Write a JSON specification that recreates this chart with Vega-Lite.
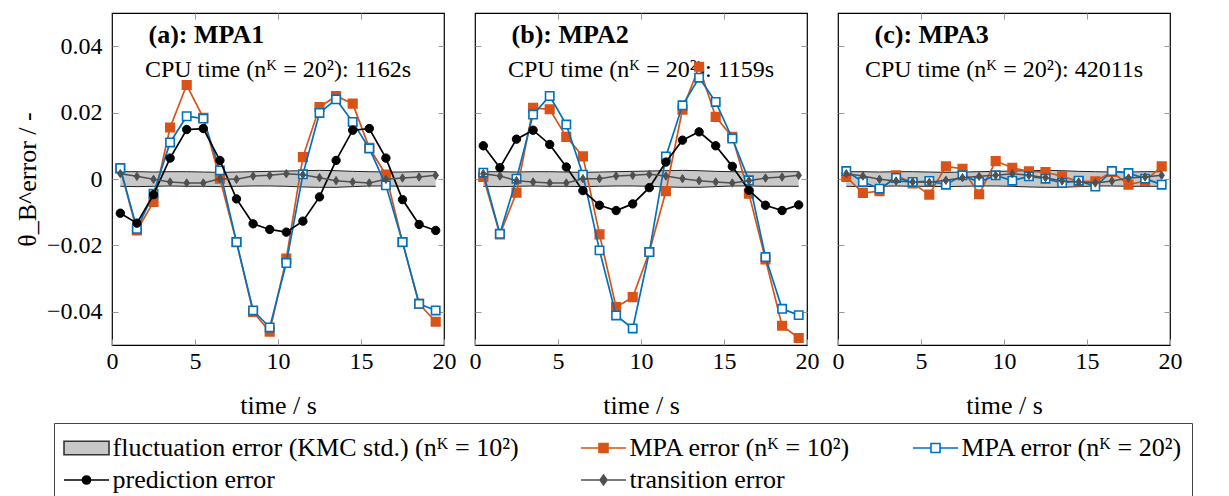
{
  "$schema": "https://vega.github.io/schema/vega-lite/v6.json",
  "padding": {"left": 13, "top": 11, "right": 5, "bottom": 5},
  "bounds": "flush",
  "spacing": 31,
  "config": {
    "view": {"stroke": "black", "strokeWidth": 1.2},
    "axis": {"labelFont": "Liberation Serif", "titleFont": "Liberation Serif", "labelFontSize": 24, "titleFontSize": 26, "titleFontWeight": "normal", "labelColor": "black", "titleColor": "black", "tickColor": "#999999", "tickSize": -6, "tickWidth": 1, "domain": false, "grid": false, "labelFlush": false}
  },
  "datasets": {
    "band": [
      {"t": 0.5, "lo": -0.0022, "hi": 0.0022}, {"t": 1.5, "lo": -0.0023, "hi": 0.0022}, {"t": 2.5, "lo": -0.0022, "hi": 0.0021}, {"t": 3.5, "lo": -0.0021, "hi": 0.0022}, {"t": 4.5, "lo": -0.0022, "hi": 0.0022},
      {"t": 5.5, "lo": -0.0022, "hi": 0.0021}, {"t": 6.5, "lo": -0.0023, "hi": 0.002}, {"t": 7.5, "lo": -0.0022, "hi": 0.0021}, {"t": 8.5, "lo": -0.0021, "hi": 0.0022}, {"t": 9.5, "lo": -0.0021, "hi": 0.0023},
      {"t": 10.5, "lo": -0.0022, "hi": 0.0024}, {"t": 11.5, "lo": -0.0024, "hi": 0.0025}, {"t": 12.5, "lo": -0.0025, "hi": 0.0026}, {"t": 13.5, "lo": -0.0025, "hi": 0.0025}, {"t": 14.5, "lo": -0.0023, "hi": 0.0023},
      {"t": 15.5, "lo": -0.0021, "hi": 0.0022}, {"t": 16.5, "lo": -0.0021, "hi": 0.0021}, {"t": 17.5, "lo": -0.0022, "hi": 0.0021}, {"t": 18.5, "lo": -0.0022, "hi": 0.0022}, {"t": 19.5, "lo": -0.0022, "hi": 0.0022}
    ],
    "labels": [
      {"p": "a", "title": "(a): MPA1", "cpu": "CPU time (nᴷ = 20²): 1162s"},
      {"p": "b", "title": "(b): MPA2", "cpu": "CPU time (nᴷ = 20²): 1159s"},
      {"p": "c", "title": "(c): MPA3", "cpu": "CPU time (nᴷ = 20²): 42011s"}
    ],
    "legend": [{"key": "fl"}, {"key": "m10"}, {"key": "m20"}, {"key": "pred"}, {"key": "trans"}],
    "wide": [
      {"p": "a", "t": 0.5, "m10": 0.0031, "m20": 0.0033, "pred": -0.0103, "trans": 0.0016},
      {"p": "a", "t": 1.5, "m10": -0.0155, "m20": -0.015, "pred": -0.0133, "trans": 0.0008},
      {"p": "a", "t": 2.5, "m10": -0.0069, "m20": -0.0044, "pred": -0.0047, "trans": -0.0001},
      {"p": "a", "t": 3.5, "m10": 0.0155, "m20": 0.011, "pred": 0.0063, "trans": -0.0009},
      {"p": "a", "t": 4.5, "m10": 0.0283, "m20": 0.0189, "pred": 0.0149, "trans": -0.0012},
      {"p": "a", "t": 5.5, "m10": 0.0184, "m20": 0.0182, "pred": 0.0152, "trans": -0.0012},
      {"p": "a", "t": 6.5, "m10": 0.0001, "m20": 0.0026, "pred": 0.0056, "trans": 0.0001},
      {"p": "a", "t": 7.5, "m10": -0.019, "m20": -0.019, "pred": -0.006, "trans": -0.0001},
      {"p": "a", "t": 8.5, "m10": -0.04, "m20": -0.0396, "pred": -0.0135, "trans": 0.0009},
      {"p": "a", "t": 9.5, "m10": -0.046, "m20": -0.0447, "pred": -0.0152, "trans": 0.0011},
      {"p": "a", "t": 10.5, "m10": -0.024, "m20": -0.0253, "pred": -0.016, "trans": 0.0016},
      {"p": "a", "t": 11.5, "m10": 0.0066, "m20": 0.0014, "pred": -0.0127, "trans": 0.0013},
      {"p": "a", "t": 12.5, "m10": 0.0217, "m20": 0.0199, "pred": -0.0054, "trans": 0.0004},
      {"p": "a", "t": 13.5, "m10": 0.025, "m20": 0.024, "pred": 0.0056, "trans": -0.0005},
      {"p": "a", "t": 14.5, "m10": 0.0227, "m20": 0.0172, "pred": 0.0147, "trans": -0.0009},
      {"p": "a", "t": 15.5, "m10": 0.0094, "m20": 0.0092, "pred": 0.0152, "trans": -0.0012},
      {"p": "a", "t": 16.5, "m10": 0.0013, "m20": -0.0019, "pred": 0.0063, "trans": -0.0001},
      {"p": "a", "t": 17.5, "m10": -0.019, "m20": -0.019, "pred": -0.0062, "trans": 0.0003},
      {"p": "a", "t": 18.5, "m10": -0.0376, "m20": -0.0376, "pred": -0.0137, "trans": 0.0006},
      {"p": "a", "t": 19.5, "m10": -0.043, "m20": -0.0396, "pred": -0.0155, "trans": 0.0011},
      {"p": "b", "t": 0.5, "m10": 0.0006, "m20": 0.0019, "pred": 0.01, "trans": 0.0016},
      {"p": "b", "t": 1.5, "m10": -0.0167, "m20": -0.0165, "pred": 0.0034, "trans": 0.0009},
      {"p": "b", "t": 2.5, "m10": -0.0041, "m20": 0.0001, "pred": 0.012, "trans": -0.0005},
      {"p": "b", "t": 3.5, "m10": 0.0214, "m20": 0.0194, "pred": 0.0147, "trans": -0.0009},
      {"p": "b", "t": 4.5, "m10": 0.021, "m20": 0.025, "pred": 0.0104, "trans": -0.0012},
      {"p": "b", "t": 5.5, "m10": 0.0127, "m20": 0.0164, "pred": 0.0036, "trans": -0.0012},
      {"p": "b", "t": 6.5, "m10": 0.0068, "m20": 0.0013, "pred": -0.0035, "trans": 0.0001},
      {"p": "b", "t": 7.5, "m10": -0.0167, "m20": -0.0215, "pred": -0.0079, "trans": 0.0001},
      {"p": "b", "t": 8.5, "m10": -0.0386, "m20": -0.0411, "pred": -0.0095, "trans": 0.0009},
      {"p": "b", "t": 9.5, "m10": -0.0356, "m20": -0.045, "pred": -0.0075, "trans": 0.0011},
      {"p": "b", "t": 10.5, "m10": -0.022, "m20": -0.022, "pred": -0.0026, "trans": 0.0014},
      {"p": "b", "t": 11.5, "m10": -0.0037, "m20": 0.0068, "pred": 0.0051, "trans": 0.0009},
      {"p": "b", "t": 12.5, "m10": 0.0209, "m20": 0.0222, "pred": 0.0117, "trans": 0.0001},
      {"p": "b", "t": 13.5, "m10": 0.0338, "m20": 0.0305, "pred": 0.0142, "trans": -0.0005},
      {"p": "b", "t": 14.5, "m10": 0.0187, "m20": 0.0232, "pred": 0.01, "trans": -0.0009},
      {"p": "b", "t": 15.5, "m10": 0.0127, "m20": 0.0122, "pred": 0.0038, "trans": -0.0012},
      {"p": "b", "t": 16.5, "m10": -0.0044, "m20": -0.0004, "pred": -0.0034, "trans": -0.0005},
      {"p": "b", "t": 17.5, "m10": -0.0242, "m20": -0.0235, "pred": -0.0079, "trans": 0.0003},
      {"p": "b", "t": 18.5, "m10": -0.0442, "m20": -0.0391, "pred": -0.0095, "trans": 0.0006},
      {"p": "b", "t": 19.5, "m10": -0.0479, "m20": -0.041, "pred": -0.0078, "trans": 0.0011},
      {"p": "c", "t": 0.5, "m10": 0.0006, "m20": 0.0024, "trans": 0.0016},
      {"p": "c", "t": 1.5, "m10": -0.0042, "m20": -0.0009, "trans": 0.0009},
      {"p": "c", "t": 2.5, "m10": -0.0037, "m20": -0.0029, "trans": -0.0001},
      {"p": "c", "t": 3.5, "m10": 0.0011, "m20": 0.0003, "trans": -0.0006},
      {"p": "c", "t": 4.5, "m10": -0.0013, "m20": -0.0009, "trans": -0.0009},
      {"p": "c", "t": 5.5, "m10": -0.0047, "m20": -0.0006, "trans": -0.001},
      {"p": "c", "t": 6.5, "m10": 0.0038, "m20": -0.0017, "trans": -0.0004},
      {"p": "c", "t": 7.5, "m10": 0.0031, "m20": 0.0011, "trans": 0.0004},
      {"p": "c", "t": 8.5, "m10": -0.0046, "m20": -0.0009, "trans": 0.0008},
      {"p": "c", "t": 9.5, "m10": 0.0054, "m20": 0.0011, "trans": 0.0011},
      {"p": "c", "t": 10.5, "m10": 0.0034, "m20": -0.0005, "trans": 0.0016},
      {"p": "c", "t": 11.5, "m10": 0.0023, "m20": 0.0008, "trans": 0.0011},
      {"p": "c", "t": 12.5, "m10": 0.0021, "m20": 0.0001, "trans": 0.0004},
      {"p": "c", "t": 13.5, "m10": 0.0008, "m20": -0.0012, "trans": -0.0006},
      {"p": "c", "t": 14.5, "m10": -0.0007, "m20": -0.0005, "trans": -0.0009},
      {"p": "c", "t": 15.5, "m10": -0.0007, "m20": -0.0023, "trans": -0.0012},
      {"p": "c", "t": 16.5, "m10": 0.0021, "m20": 0.0024, "trans": -0.0006},
      {"p": "c", "t": 17.5, "m10": -0.0017, "m20": 0.0018, "trans": 0.0003},
      {"p": "c", "t": 18.5, "m10": -0.0006, "m20": 0.0001, "trans": 0.0006},
      {"p": "c", "t": 19.5, "m10": 0.0038, "m20": -0.0017, "trans": 0.0011}
    ]
  },
  "hconcat": [
    {
      "width": 332, "height": 332,
      "resolve": {"axis": {"x": "independent", "y": "independent"}},
      "layer": [
        {"data": {"name": "band"}, "mark": {"type": "area", "fill": "#c8c8c8", "opacity": 1},
         "encoding": {
           "x": {"field": "t", "type": "quantitative", "scale": {"domain": [0, 20], "nice": false, "zero": false}, "axis": {"orient": "bottom", "values": [0, 5, 10, 15, 20], "labelPadding": 10, "title": "time / s", "titlePadding": 19}},
           "y": {"field": "lo", "type": "quantitative", "scale": {"domain": [-0.05, 0.05], "nice": false}, "axis": {"orient": "left", "values": [-0.04, -0.02, 0, 0.02, 0.04], "format": ".2~f", "labelPadding": 16, "title": "θ_B^error / -", "titlePadding": 6}},
           "y2": {"field": "hi"}}},
        {"data": {"name": "band"}, "mark": {"type": "line", "stroke": "#222222", "strokeWidth": 1},
         "encoding": {
           "x": {"field": "t", "type": "quantitative", "axis": {"orient": "top", "values": [5, 10, 15], "labels": false, "title": null}},
           "y": {"field": "hi", "type": "quantitative", "axis": {"orient": "right", "values": [-0.04, -0.02, 0, 0.02, 0.04], "labels": false, "title": null}}}},
        {"data": {"name": "band"}, "mark": {"type": "line", "stroke": "#222222", "strokeWidth": 1},
         "encoding": {"x": {"field": "t", "type": "quantitative", "axis": null}, "y": {"field": "lo", "type": "quantitative", "axis": null}}},
        {"data": {"name": "labels"}, "transform": [{"filter": "datum.p === 'a'"}],
         "mark": {"type": "text", "font": "Liberation Serif", "fontSize": 26, "fontWeight": "bold", "align": "left", "baseline": "middle", "color": "black"},
         "encoding": {"x": {"datum": 2.2, "type": "quantitative", "axis": null}, "y": {"datum": 0.0435, "type": "quantitative", "axis": null}, "text": {"field": "title"}}},
        {"data": {"name": "labels"}, "transform": [{"filter": "datum.p === 'a'"}],
         "mark": {"type": "text", "font": "Liberation Serif", "fontSize": 24, "align": "center", "baseline": "middle", "color": "black"},
         "encoding": {"x": {"datum": 10, "type": "quantitative", "axis": null}, "y": {"datum": 0.0329, "type": "quantitative", "axis": null}, "text": {"field": "cpu"}}},
        {"data": {"name": "wide"}, "transform": [{"filter": "datum.p === 'a'"}],
         "mark": {"type": "line", "color": "#D95319", "strokeWidth": 1.7, "point": {"shape": "square", "filled": true, "fill": "#D95319", "stroke": "#D95319", "strokeWidth": 1.5, "size": 75}},
         "encoding": {"x": {"field": "t", "type": "quantitative", "axis": null}, "y": {"field": "m10", "type": "quantitative", "axis": null}}},
        {"data": {"name": "wide"}, "transform": [{"filter": "datum.p === 'a'"}],
         "mark": {"type": "line", "color": "#0072BD", "strokeWidth": 1.7, "point": {"shape": "square", "filled": true, "fill": "white", "stroke": "#0072BD", "strokeWidth": 1.6, "size": 70}},
         "encoding": {"x": {"field": "t", "type": "quantitative", "axis": null}, "y": {"field": "m20", "type": "quantitative", "axis": null}}},
        {"data": {"name": "wide"}, "transform": [{"filter": "datum.p === 'a'"}],
         "mark": {"type": "line", "color": "#000000", "strokeWidth": 1.7, "point": {"shape": "circle", "filled": true, "fill": "black", "stroke": "black", "strokeWidth": 1, "size": 70}},
         "encoding": {"x": {"field": "t", "type": "quantitative", "axis": null}, "y": {"field": "pred", "type": "quantitative", "axis": null}}},
        {"data": {"name": "wide"}, "transform": [{"filter": "datum.p === 'a'"}],
         "mark": {"type": "line", "color": "#505050", "strokeWidth": 1.5, "point": {"shape": "M0,-1L0.65,0L0,1L-0.65,0Z", "filled": true, "fill": "#505050", "stroke": "#505050", "strokeWidth": 1, "size": 70}},
         "encoding": {"x": {"field": "t", "type": "quantitative", "axis": null}, "y": {"field": "trans", "type": "quantitative", "axis": null}}},
        {"data": {"name": "legend"}, "mark": {"type": "point", "opacity": 0, "strokeWidth": 1.6},
         "encoding": {
           "stroke": {"field": "key", "type": "nominal", "scale": {"domain": ["fl", "m10", "m20", "pred", "trans"], "range": ["#333333", "#D95319", "#0072BD", "#000000", "#505050"]},
             "legend": {"title": null, "orient": "none", "legendX": -58, "legendY": 410, "columns": 3, "direction": "horizontal",
               "labelExpr": "datum.value === 'fl' ? 'fluctuation error (KMC std.) (nᴷ = 10²)' : datum.value === 'm10' ? 'MPA error (nᴷ = 10²)' : datum.value === 'm20' ? 'MPA error (nᴷ = 20²)' : datum.value === 'pred' ? 'prediction error' : 'transition error'",
               "symbolSize": 900, "symbolStrokeWidth": 1.6, "symbolOpacity": 1, "labelOffset": 17.5, "columnPadding": 58, "rowPadding": 3, "padding": 9,
               "strokeColor": "#444444", "fillColor": "white", "labelFont": "Liberation Serif", "labelFontSize": 26, "labelColor": "black", "labelLimit": 1000}},
           "fill": {"field": "key", "type": "nominal", "scale": {"domain": ["fl", "m10", "m20", "pred", "trans"], "range": ["#c8c8c8", "#D95319", "white", "#000000", "#505050"]},
             "legend": {"title": null, "orient": "none", "legendX": -58, "legendY": 410, "columns": 3, "direction": "horizontal",
               "labelExpr": "datum.value === 'fl' ? 'fluctuation error (KMC std.) (nᴷ = 10²)' : datum.value === 'm10' ? 'MPA error (nᴷ = 10²)' : datum.value === 'm20' ? 'MPA error (nᴷ = 20²)' : datum.value === 'pred' ? 'prediction error' : 'transition error'",
               "symbolSize": 900, "symbolStrokeWidth": 1.6, "symbolOpacity": 1, "labelOffset": 17.5, "columnPadding": 58, "rowPadding": 3, "padding": 9,
               "strokeColor": "#444444", "fillColor": "white", "labelFont": "Liberation Serif", "labelFontSize": 26, "labelColor": "black", "labelLimit": 1000}},
           "shape": {"field": "key", "type": "nominal", "scale": {"domain": ["fl", "m10", "m20", "pred", "trans"], "range": ["M-1,-0.45H2V0.45H-1Z", "M-1,0H2M0.2,-0.3H0.8V0.3H0.2Z", "M-1,0H0.2M0.8,0H2M0.2,-0.3H0.8V0.3H0.2Z", "M-1,0H2M0.23,0A0.27,0.27 0 1,0 0.77,0A0.27,0.27 0 1,0 0.23,0Z", "M-1,0H2M0.5,-0.33L0.73,0L0.5,0.33L0.27,0Z"]},
             "legend": {"title": null, "orient": "none", "legendX": -58, "legendY": 410, "columns": 3, "direction": "horizontal",
               "labelExpr": "datum.value === 'fl' ? 'fluctuation error (KMC std.) (nᴷ = 10²)' : datum.value === 'm10' ? 'MPA error (nᴷ = 10²)' : datum.value === 'm20' ? 'MPA error (nᴷ = 20²)' : datum.value === 'pred' ? 'prediction error' : 'transition error'",
               "symbolSize": 900, "symbolStrokeWidth": 1.6, "symbolOpacity": 1, "labelOffset": 17.5, "columnPadding": 58, "rowPadding": 3, "padding": 9,
               "strokeColor": "#444444", "fillColor": "white", "labelFont": "Liberation Serif", "labelFontSize": 26, "labelColor": "black", "labelLimit": 1000}}}}
      ]
    },
    {
      "width": 332, "height": 332,
      "resolve": {"axis": {"x": "independent", "y": "independent"}},
      "layer": [
        {"data": {"name": "band"}, "mark": {"type": "area", "fill": "#c8c8c8", "opacity": 1},
         "encoding": {
           "x": {"field": "t", "type": "quantitative", "scale": {"domain": [0, 20], "nice": false, "zero": false}, "axis": {"orient": "bottom", "values": [0, 5, 10, 15, 20], "labelPadding": 10, "title": "time / s", "titlePadding": 19}},
           "y": {"field": "lo", "type": "quantitative", "scale": {"domain": [-0.05, 0.05], "nice": false}, "axis": {"orient": "left", "values": [-0.04, -0.02, 0, 0.02, 0.04], "labels": false, "title": null}},
           "y2": {"field": "hi"}}},
        {"data": {"name": "band"}, "mark": {"type": "line", "stroke": "#222222", "strokeWidth": 1},
         "encoding": {
           "x": {"field": "t", "type": "quantitative", "axis": {"orient": "top", "values": [5, 10, 15], "labels": false, "title": null}},
           "y": {"field": "hi", "type": "quantitative", "axis": {"orient": "right", "values": [-0.04, -0.02, 0, 0.02, 0.04], "labels": false, "title": null}}}},
        {"data": {"name": "band"}, "mark": {"type": "line", "stroke": "#222222", "strokeWidth": 1},
         "encoding": {"x": {"field": "t", "type": "quantitative", "axis": null}, "y": {"field": "lo", "type": "quantitative", "axis": null}}},
        {"data": {"name": "labels"}, "transform": [{"filter": "datum.p === 'b'"}],
         "mark": {"type": "text", "font": "Liberation Serif", "fontSize": 26, "fontWeight": "bold", "align": "left", "baseline": "middle", "color": "black"},
         "encoding": {"x": {"datum": 2.2, "type": "quantitative", "axis": null}, "y": {"datum": 0.0435, "type": "quantitative", "axis": null}, "text": {"field": "title"}}},
        {"data": {"name": "labels"}, "transform": [{"filter": "datum.p === 'b'"}],
         "mark": {"type": "text", "font": "Liberation Serif", "fontSize": 24, "align": "center", "baseline": "middle", "color": "black"},
         "encoding": {"x": {"datum": 10, "type": "quantitative", "axis": null}, "y": {"datum": 0.0329, "type": "quantitative", "axis": null}, "text": {"field": "cpu"}}},
        {"data": {"name": "wide"}, "transform": [{"filter": "datum.p === 'b'"}],
         "mark": {"type": "line", "color": "#D95319", "strokeWidth": 1.7, "point": {"shape": "square", "filled": true, "fill": "#D95319", "stroke": "#D95319", "strokeWidth": 1.5, "size": 75}},
         "encoding": {"x": {"field": "t", "type": "quantitative", "axis": null}, "y": {"field": "m10", "type": "quantitative", "axis": null}}},
        {"data": {"name": "wide"}, "transform": [{"filter": "datum.p === 'b'"}],
         "mark": {"type": "line", "color": "#0072BD", "strokeWidth": 1.7, "point": {"shape": "square", "filled": true, "fill": "white", "stroke": "#0072BD", "strokeWidth": 1.6, "size": 70}},
         "encoding": {"x": {"field": "t", "type": "quantitative", "axis": null}, "y": {"field": "m20", "type": "quantitative", "axis": null}}},
        {"data": {"name": "wide"}, "transform": [{"filter": "datum.p === 'b'"}],
         "mark": {"type": "line", "color": "#000000", "strokeWidth": 1.7, "point": {"shape": "circle", "filled": true, "fill": "black", "stroke": "black", "strokeWidth": 1, "size": 70}},
         "encoding": {"x": {"field": "t", "type": "quantitative", "axis": null}, "y": {"field": "pred", "type": "quantitative", "axis": null}}},
        {"data": {"name": "wide"}, "transform": [{"filter": "datum.p === 'b'"}],
         "mark": {"type": "line", "color": "#505050", "strokeWidth": 1.5, "point": {"shape": "M0,-1L0.65,0L0,1L-0.65,0Z", "filled": true, "fill": "#505050", "stroke": "#505050", "strokeWidth": 1, "size": 70}},
         "encoding": {"x": {"field": "t", "type": "quantitative", "axis": null}, "y": {"field": "trans", "type": "quantitative", "axis": null}}}
      ]
    },
    {
      "width": 332, "height": 332,
      "resolve": {"axis": {"x": "independent", "y": "independent"}},
      "layer": [
        {"data": {"name": "band"}, "mark": {"type": "area", "fill": "#c8c8c8", "opacity": 1},
         "encoding": {
           "x": {"field": "t", "type": "quantitative", "scale": {"domain": [0, 20], "nice": false, "zero": false}, "axis": {"orient": "bottom", "values": [0, 5, 10, 15, 20], "labelPadding": 10, "title": "time / s", "titlePadding": 19}},
           "y": {"field": "lo", "type": "quantitative", "scale": {"domain": [-0.05, 0.05], "nice": false}, "axis": {"orient": "left", "values": [-0.04, -0.02, 0, 0.02, 0.04], "labels": false, "title": null}},
           "y2": {"field": "hi"}}},
        {"data": {"name": "band"}, "mark": {"type": "line", "stroke": "#222222", "strokeWidth": 1},
         "encoding": {
           "x": {"field": "t", "type": "quantitative", "axis": {"orient": "top", "values": [5, 10, 15], "labels": false, "title": null}},
           "y": {"field": "hi", "type": "quantitative", "axis": {"orient": "right", "values": [-0.04, -0.02, 0, 0.02, 0.04], "labels": false, "title": null}}}},
        {"data": {"name": "band"}, "mark": {"type": "line", "stroke": "#222222", "strokeWidth": 1},
         "encoding": {"x": {"field": "t", "type": "quantitative", "axis": null}, "y": {"field": "lo", "type": "quantitative", "axis": null}}},
        {"data": {"name": "labels"}, "transform": [{"filter": "datum.p === 'c'"}],
         "mark": {"type": "text", "font": "Liberation Serif", "fontSize": 26, "fontWeight": "bold", "align": "left", "baseline": "middle", "color": "black"},
         "encoding": {"x": {"datum": 2.2, "type": "quantitative", "axis": null}, "y": {"datum": 0.0435, "type": "quantitative", "axis": null}, "text": {"field": "title"}}},
        {"data": {"name": "labels"}, "transform": [{"filter": "datum.p === 'c'"}],
         "mark": {"type": "text", "font": "Liberation Serif", "fontSize": 24, "align": "center", "baseline": "middle", "color": "black"},
         "encoding": {"x": {"datum": 10, "type": "quantitative", "axis": null}, "y": {"datum": 0.0329, "type": "quantitative", "axis": null}, "text": {"field": "cpu"}}},
        {"data": {"name": "wide"}, "transform": [{"filter": "datum.p === 'c'"}],
         "mark": {"type": "line", "color": "#D95319", "strokeWidth": 1.7, "point": {"shape": "square", "filled": true, "fill": "#D95319", "stroke": "#D95319", "strokeWidth": 1.5, "size": 75}},
         "encoding": {"x": {"field": "t", "type": "quantitative", "axis": null}, "y": {"field": "m10", "type": "quantitative", "axis": null}}},
        {"data": {"name": "wide"}, "transform": [{"filter": "datum.p === 'c'"}],
         "mark": {"type": "line", "color": "#0072BD", "strokeWidth": 1.7, "point": {"shape": "square", "filled": true, "fill": "white", "stroke": "#0072BD", "strokeWidth": 1.6, "size": 70}},
         "encoding": {"x": {"field": "t", "type": "quantitative", "axis": null}, "y": {"field": "m20", "type": "quantitative", "axis": null}}},
        {"data": {"name": "wide"}, "transform": [{"filter": "datum.p === 'c'"}],
         "mark": {"type": "line", "color": "#505050", "strokeWidth": 1.5, "point": {"shape": "M0,-1L0.65,0L0,1L-0.65,0Z", "filled": true, "fill": "#505050", "stroke": "#505050", "strokeWidth": 1, "size": 70}},
         "encoding": {"x": {"field": "t", "type": "quantitative", "axis": null}, "y": {"field": "trans", "type": "quantitative", "axis": null}}}
      ]
    }
  ]
}
